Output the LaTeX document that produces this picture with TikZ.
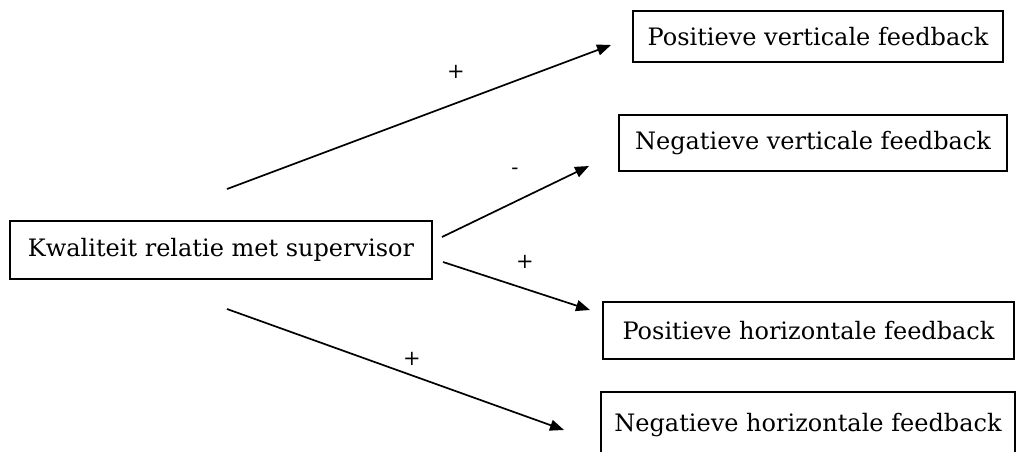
\documentclass[tikz,border=0pt]{standalone}
\usepackage{fontspec}
\setmainfont{DejaVu Serif}
\usetikzlibrary{arrows.meta}
\begin{document}
\begin{tikzpicture}[x=1pt,y=-1pt,
  box/.style={draw=black,line width=1.4pt,inner sep=0pt,font=\fontsize{24}{28}\selectfont},
  conn/.style={line width=1.7pt,-{Triangle[length=14pt,width=11pt]}},
  sign/.style={font=\fontsize{21}{24}\selectfont,inner sep=0pt}]
\useasboundingbox (0,0) rectangle (1017,452);
\clip (0,0) rectangle (1017,452);
\node[box,minimum width=422pt,minimum height=58pt] (k) at (221,250) {Kwaliteit relatie met supervisor};
\node[box,minimum width=370pt,minimum height=51pt] (pv) at (818,36.5) {Positieve verticale feedback};
\node[box,minimum width=388pt,minimum height=56pt] (nv) at (813,143) {Negatieve verticale feedback};
\node[box,minimum width=411pt,minimum height=57pt] (ph) at (808.5,330.5) {Positieve horizontale feedback};
\node[box,minimum width=414pt,minimum height=70pt,text depth=0pt] (nh) at (808,427) {\raisebox{10pt}{Negatieve horizontale feedback}};
\coordinate (s1) at (227,189);
\coordinate (e1) at (611,45);
\coordinate (s2) at (442,237);
\coordinate (e2) at (589,166);
\coordinate (s3) at (443,262);
\coordinate (e3) at (590,310);
\coordinate (s4) at (227,309);
\coordinate (e4) at (564,430);
\draw[conn] (s1) -- (e1);
\draw[conn] (s2) -- (e2);
\draw[conn] (s3) -- (e3);
\draw[conn] (s4) -- (e4);
\node[sign] (l1) at (456,72) {+};
\node[sign] (l2) at (515,171) {-};
\node[sign] (l3) at (525,262) {+};
\node[sign] (l4) at (412,359) {+};
\end{tikzpicture}
\end{document}
